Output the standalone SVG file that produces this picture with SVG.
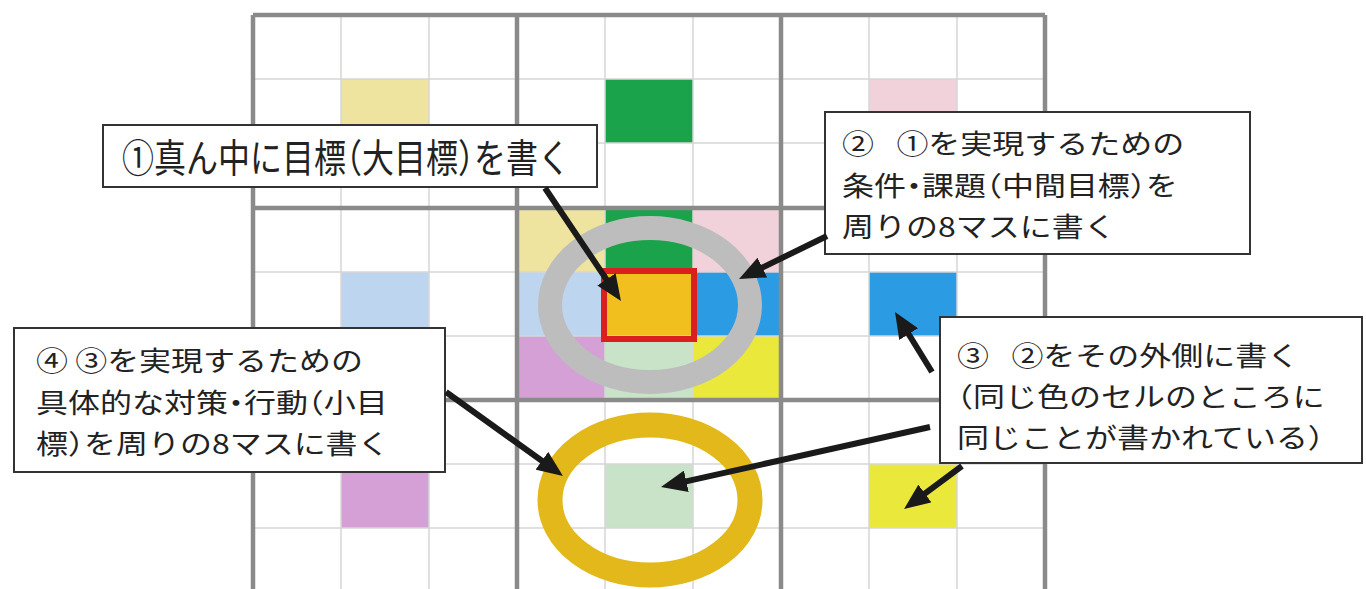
<svg xmlns="http://www.w3.org/2000/svg" width="1366" height="589" viewBox="0 0 1366 589">
<style>
.thin{stroke:#d6d6d6;stroke-width:1.5;fill:none}
.thick{stroke:#8a8a8a;stroke-width:4.5;fill:none}
.box{fill:#ffffff;stroke:#333333;stroke-width:2}
.t{font-family:"Noto Sans CJK JP","Noto Sans CJK SC",sans-serif;font-size:32px;fill:#222222;font-feature-settings:"halt"}
.s{font-family:"Noto Sans CJK JP","Noto Sans CJK SC",sans-serif;font-size:27px;fill:#222222;font-feature-settings:"halt"}
.arr{stroke:#1a1a1a;stroke-width:6;fill:none;marker-end:url(#ah)}
.py{fill:#efe3a0}.gr{fill:#1ba34b}.pp{fill:#f2d2da}.pb{fill:#bdd5ef}
.bl{fill:#2b9be3}.pu{fill:#d5a0d5}.pg{fill:#c9e3c9}.ye{fill:#ebe83c}.or{fill:#f2c01e}
</style>
<defs>
<marker id="ah" markerUnits="userSpaceOnUse" viewBox="0 0 26 22" refX="6" refY="11" markerWidth="26" markerHeight="22" orient="auto">
<path d="M0,0 L26,11 L0,22 Z" fill="#1a1a1a"/>
</marker>
</defs>
<rect width="1366" height="589" fill="#ffffff"/>
<g id="cells">
<rect class="py" x="341" y="79" width="88" height="64"/>
<rect class="gr" x="605" y="79" width="88" height="64"/>
<rect class="pp" x="869" y="79" width="88" height="64"/>
<rect class="pb" x="341" y="272" width="88" height="64"/>
<rect class="bl" x="869" y="272" width="88" height="64"/>
<rect class="pu" x="341" y="464" width="88" height="64"/>
<rect class="pg" x="605" y="464" width="88" height="64"/>
<rect class="ye" x="869" y="464" width="88" height="64"/>
<rect class="py" x="517" y="208" width="88" height="64"/>
<rect class="gr" x="605" y="208" width="88" height="64"/>
<rect class="pp" x="693" y="208" width="88" height="64"/>
<rect class="pb" x="517" y="272" width="88" height="64"/>
<rect class="or" x="605" y="272" width="88" height="64"/>
<rect class="bl" x="693" y="272" width="88" height="64"/>
<rect class="pu" x="517" y="336" width="88" height="64"/>
<rect class="pg" x="605" y="336" width="88" height="64"/>
<rect class="ye" x="693" y="336" width="88" height="64"/>
</g>
<g id="grid">
<path class="thin" d="M341,15V592M429,15V592M605,15V592M693,15V592M869,15V592M957,15V592M253,79H1045M253,143H1045M253,272H1045M253,336H1045M253,464H1045M253,528H1045"/>
<path class="thick" d="M253,15V592M517,15V592M781,15V592M1045,15V592M253,15H1045M253,208H1045M253,400H1045"/>
</g>
<g id="center-goal">
<rect x="604" y="271" width="90" height="68" fill="none" stroke="#d9201e" stroke-width="6"/>
</g>
<g id="ring-gray">
<ellipse cx="650" cy="305" rx="100" ry="77" fill="none" stroke="#bdbdbd" stroke-width="24"/>
</g>
<g id="ring-gold">
<ellipse cx="650" cy="500" rx="100" ry="75" fill="none" stroke="#e2b81a" stroke-width="25"/>
</g>
<g id="label1">
<rect class="box" x="103" y="125" width="494" height="62"/>
<text class="t" transform="translate(122,172) scale(1,1.22)">①真ん中に目標（大目標）を書く</text>
</g>
<g id="label2">
<rect class="box" x="825" y="112" width="425" height="142"/>
<text class="s" transform="translate(842,154) scale(1.185,1)">②&#8194;&#8201;①を実現するための</text>
<text class="s" transform="translate(842,196) scale(1.185,1)">条件・課題（中間目標）を</text>
<text class="s" transform="translate(842,237) scale(1.185,1)">周りの8マスに書く</text>
</g>
<g id="label3">
<rect class="box" x="940" y="317" width="422" height="146"/>
<text class="s" transform="translate(957,366) scale(1.185,1)">③&#8194;&#8201;②をその外側に書く</text>
<text class="s" transform="translate(957,407) scale(1.185,1)">（同じ色のセルのところに</text>
<text class="s" transform="translate(957,448) scale(1.185,1)">同じことが書かれている）</text>
</g>
<g id="label4">
<rect class="box" x="14" y="328" width="431" height="144"/>
<text class="s" transform="translate(36,371) scale(1.185,1)">④ ③を実現するための</text>
<text class="s" transform="translate(36,413) scale(1.185,1)">具体的な対策・行動（小目</text>
<text class="s" transform="translate(36,454) scale(1.185,1)">標）を周りの8マスに書く</text>
</g>
<g id="connectors">
<line class="arr" x1="545" y1="188" x2="609.8" y2="284.4"/>
<line class="arr" x1="827" y1="236" x2="757" y2="270.2"/>
<line class="arr" x1="932" y1="372" x2="905.5" y2="329"/>
<line class="arr" x1="930" y1="427" x2="680.5" y2="482.6"/>
<line class="arr" x1="962" y1="466" x2="920.1" y2="497.1"/>
<line class="arr" x1="446" y1="392" x2="546.7" y2="464.3"/>
</g>
</svg>
